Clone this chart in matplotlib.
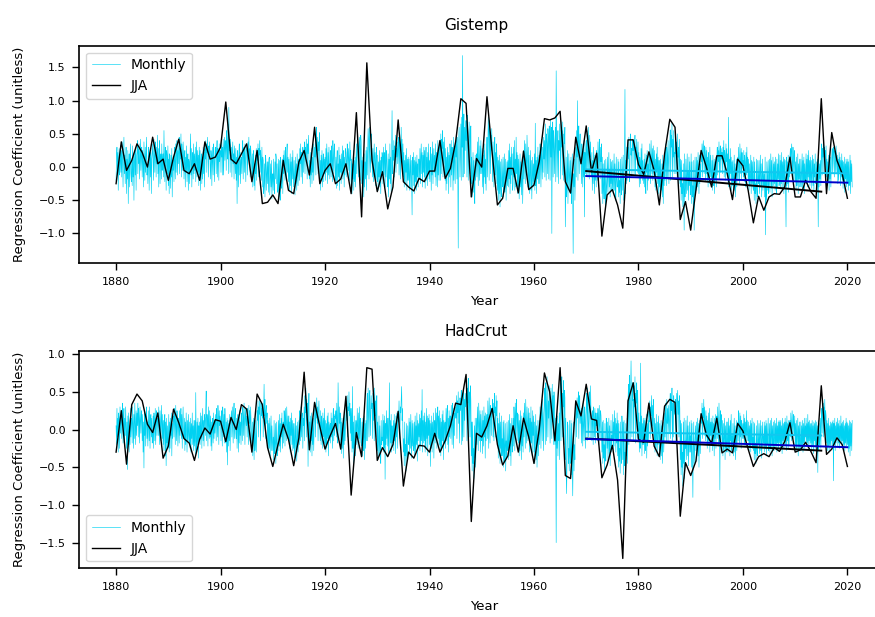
import numpy as np
import matplotlib
matplotlib.use('Agg')
import matplotlib.pyplot as plt

# JJA regression coefficients, 1880-2020
jja_years = np.arange(1880, 2021)
gis_jja = [
    -0.25, 0.38, -0.05, 0.10, 0.35, 0.22, 0.00, 0.45, 0.05, 0.12,
    -0.20, 0.15, 0.42, -0.05, -0.10, 0.05, -0.20, 0.38, 0.12, 0.15,
    0.30, 0.98, 0.12, 0.05, 0.20, 0.35, -0.22, 0.25, -0.55, -0.53,
    -0.42, -0.55, 0.10, -0.35, -0.40, 0.08, 0.25, -0.12, 0.60, -0.25,
    -0.05, 0.05, -0.25, -0.18, 0.05, -0.40, 0.82, -0.75, 1.57, 0.10,
    -0.37, -0.07, -0.63, -0.30, 0.71, -0.22, -0.30, -0.36, -0.17, -0.22,
    -0.06, -0.06, 0.40, -0.17, -0.02, 0.38, 1.03, 0.96, -0.45, 0.13,
    0.00, 1.06, 0.21, -0.57, -0.47, -0.02, -0.02, -0.39, 0.24, -0.34,
    -0.27, 0.08, 0.73, 0.71, 0.74, 0.84, -0.22, -0.39, 0.45, 0.05,
    0.62, -0.07, 0.21, -1.04, -0.42, -0.34, -0.57, -0.92, 0.41, 0.41,
    0.04, -0.11, 0.23, -0.05, -0.57, 0.20, 0.72, 0.60, -0.79, -0.52,
    -0.95, -0.35, 0.25, 0.00, -0.30, 0.17, 0.17, -0.10, -0.49, 0.12,
    0.02, -0.35, -0.84, -0.44, -0.65, -0.45, -0.40, -0.41, -0.30, 0.15,
    -0.45, -0.45, -0.20, -0.37, -0.47, 1.03, -0.40, 0.52, 0.10, -0.10,
    -0.47,
]
had_jja = [
    -0.30, 0.25, -0.46, 0.33, 0.47, 0.38, 0.07, -0.04, 0.22, -0.38,
    -0.22, 0.27, 0.09, -0.12, -0.18, -0.41, -0.13, 0.02, -0.06, 0.13,
    0.11, -0.16, 0.16, 0.00, 0.33, 0.27, -0.30, 0.47, 0.33, -0.24,
    -0.49, -0.20, 0.07, -0.13, -0.48, -0.11, 0.76, -0.27, 0.36, 0.04,
    -0.26, -0.08, 0.08, -0.26, 0.44, -0.87, -0.04, -0.36, 0.82, 0.80,
    -0.41, -0.24, -0.36, -0.20, 0.24, -0.75, -0.30, -0.38, -0.21, -0.22,
    -0.30, -0.05, -0.30, -0.15, 0.05, 0.35, 0.33, 0.73, -1.22, -0.05,
    -0.10, 0.05, 0.28, -0.20, -0.47, -0.35, 0.05, -0.30, 0.15, -0.10,
    -0.45, 0.00, 0.75, 0.50, -0.15, 0.82, -0.61, -0.65, 0.38, 0.18,
    0.60, 0.14, 0.12, -0.64, -0.47, -0.21, -0.67, -1.71, 0.38, 0.62,
    -0.13, -0.17, 0.35, -0.22, -0.36, 0.31, 0.40, 0.36, -1.15, -0.44,
    -0.61, -0.42, 0.21, -0.07, -0.18, 0.15, -0.31, -0.26, -0.31, 0.08,
    -0.02, -0.26, -0.49, -0.36, -0.32, -0.36, -0.24, -0.29, -0.16, 0.09,
    -0.30, -0.27, -0.17, -0.29, -0.44, 0.58, -0.33, -0.26, -0.11, -0.20,
    -0.49,
]

# monthly coefficients (hundredths), one row per year 1880-2020, Jan..Dec
gis_monthly = [
    [-20, 15, 30, -5, 22, -35, 10, 28, -12, 5, 33, -8],
    [25, -15, 38, 12, -30, 20, 45, -10, 18, -25, 8, 30],
    [-40, 12, -18, 25, -55, 5, 20, -30, 15, 35, -10, -22],
    [10, -28, 32, -15, 20, -50, 8, 25, -12, 30, -35, 15],
    [22, 40, -10, 28, 5, 35, -18, 12, 42, -5, 18, 30],
    [-15, 25, 8, -30, 38, 12, -20, 30, -8, 20, 45, -12],
    [5, -25, 18, 30, -35, 10, 22, -15, 28, -40, 12, 20],
    [35, 10, -20, 42, 15, -8, 38, 25, -15, 30, 5, 48],
    [-10, 28, -30, 15, 40, -25, 10, 20, -18, 35, -5, 12],
    [20, -15, 55, 8, -22, 30, 12, -35, 25, 18, -10, 32],
    [-28, 12, -40, 20, 5, -32, 18, -15, 28, -45, 10, -5],
    [15, -22, 30, 10, -18, 35, -8, 22, 40, -12, 25, 5],
    [30, 45, -10, 28, 12, 50, -15, 35, 20, -5, 38, 18],
    [-18, 10, 25, -30, 15, -8, 32, -22, 5, 20, -35, 12],
    [8, -25, 18, 50, -12, 28, -30, 10, 22, -18, 35, -10],
    [20, -5, 30, -22, 12, 38, -15, 25, -8, 18, -28, 30],
    [-12, 25, -35, 8, 20, -25, 15, -18, 30, -10, 22, -30],
    [28, 12, 40, -8, 35, 22, 45, 10, -15, 32, 18, 38],
    [5, -18, 25, 15, -28, 30, 8, -12, 35, 20, -22, 12],
    [18, 30, -10, 22, 40, -15, 28, 12, -20, 35, 8, 25],
    [25, -8, 38, 15, 30, -12, 42, -12, 28, 45, 10, 32],
    [40, -5, 55, 30, 12, 65, -10, 90, 25, 35, -8, 42],
    [10, 30, -15, 22, 38, 5, 20, -18, 32, 12, -10, 28],
    [-20, 15, -55, 25, 8, -30, 18, 35, -12, 22, -25, 10],
    [15, -10, 28, 40, -18, 22, 30, -8, 35, 12, -22, 25],
    [30, 22, -12, 38, 15, 45, 8, 28, -15, 32, 20, 12],
    [-15, 20, -30, 12, 25, -28, 5, -35, 18, -10, 28, -20],
    [22, 10, 35, -15, 28, 18, 40, -8, 25, 12, -20, 30],
    [-30, 15, 10, -40, -25, 5, -45, 18, 12, -35, -10, 8],
    [-25, 8, -38, 12, 15, -42, -20, 5, -30, 10, -48, -15],
    [-10, -35, 12, -22, -40, 8, -18, 20, 15, -25, 5, -38],
    [-35, 12, -45, 10, -28, -50, 15, 5, -32, -20, 12, -40],
    [18, -10, 25, 8, -20, 30, 12, -15, 22, 35, -8, 15],
    [-22, 12, -35, -10, 20, -28, 8, -40, 15, -18, 25, -12],
    [-30, 10, -18, -42, 15, -25, 5, -35, 20, -12, -28, 8],
    [12, -20, 28, 5, 35, -15, 22, 10, -25, 30, 18, -8],
    [25, 38, -10, 30, 15, 42, 8, -18, 35, 20, 48, 12],
    [-18, 10, -30, 22, -12, 28, -25, 15, -8, 35, -20, 5],
    [30, 15, 48, -12, 60, 35, 18, 45, -10, 38, 25, 52],
    [-25, 10, -35, 18, -15, 25, -30, 8, 20, -22, 12, -10],
    [15, -20, 28, -8, 35, 10, -25, 22, -12, 30, 5, -18],
    [8, 25, -15, 32, 12, -22, 40, 18, -10, 28, 35, -5],
    [-20, 15, -32, 10, 25, -28, 5, -15, 30, -35, 18, -8],
    [12, -25, 20, -10, 32, -18, 8, 25, -30, 15, -12, 28],
    [22, 8, -15, 35, 18, -5, 28, 12, -20, 38, 10, 25],
    [-28, 12, -40, 5, -18, 25, -35, 10, -22, 15, -30, 8],
    [35, -10, 18, 52, 28, -15, 12, 45, 30, -20, 48, 38],
    [-25, 10, -38, 15, -12, -45, 20, -30, 8, -18, 25, -35],
    [30, -12, 20, 58, 42, -18, 60, 25, -8, 15, 38, 50],
    [10, -15, 28, -22, 15, 35, -10, 22, -28, 12, 30, -18],
    [-22, 18, -35, 8, -15, 25, -30, 10, -40, 15, -8, 22],
    [15, -25, 30, -12, 22, 8, -30, 35, -15, 25, 12, -20],
    [-30, 20, -45, 12, -18, 35, -25, 15, -38, 22, 85, -10],
    [25, 10, 40, -15, 32, 18, 48, -8, 28, 15, 38, 5],
    [30, 45, -12, 52, 20, -18, 25, 60, 15, 42, -10, 35],
    [-15, 22, -30, 10, -25, 18, -8, 28, -35, 12, -20, 15],
    [-20, 12, -35, -8, 18, -30, 10, -25, -72, 15, -12, 22],
    [-28, 10, -40, 15, -22, 8, -35, 18, -15, 5, -30, 12],
    [12, -18, 28, -25, 15, 35, -10, 22, -30, 18, -8, 30],
    [-15, 25, -32, 10, 30, -20, 15, -28, 22, -10, 35, -18],
    [10, -22, 30, 15, -35, 20, -12, 38, -25, 12, 28, -8],
    [18, -15, 35, -28, 22, 10, -30, 40, -12, 25, -20, 32],
    [35, -20, 50, -10, 42, 28, 55, -15, 38, -5, 45, 22],
    [-20, 28, -35, 15, -25, 30, -10, 22, -40, 18, -15, 35],
    [22, -30, 40, -12, 30, 15, -35, 45, -20, 28, 10, -25],
    [35, 15, 52, -18, 45, -20, -122, 40, 60, 22, -15, 30],
    [65, -20, 75, 30, 168, -15, 45, 80, -10, 60, 25, 70],
    [40, 70, -15, 78, 50, -20, 30, 68, 45, -10, 55, 62],
    [-25, 15, -45, -10, 22, -38, 10, -30, -55, 18, -20, 5],
    [20, -15, 38, 10, -28, 45, 15, -20, 32, -10, 40, 8],
    [-10, 28, -30, 18, -40, 25, -15, 35, -25, 12, -35, 20],
    [45, -15, 30, 75, 55, -20, 70, 35, -10, 48, 25, 58],
    [15, -22, 38, 10, -30, 28, 45, -12, 22, -25, 35, 12],
    [-35, 15, -50, 10, -40, 18, -60, 8, -30, -45, 12, -20],
    [-30, 15, -45, -10, 20, -38, -22, 12, -50, -15, 8, -28],
    [10, -30, 25, -18, 35, -40, 15, -25, 30, -12, 20, -35],
    [-25, 30, -15, 40, -35, 12, -30, 45, -10, 22, -40, 18],
    [-35, 12, -48, -15, 20, -30, 8, -42, -20, 15, -55, -10],
    [25, -18, 40, 12, -25, 35, 8, -12, 48, 20, -30, 30],
    [-28, 18, -40, -12, 25, -35, 10, -48, -20, 15, -30, 5],
    [-22, 20, -35, 66, -28, 10, -40, 15, -18, 30, -25, 8],
    [18, -25, 35, 10, -30, 42, 15, -18, 30, -8, 45, 12],
    [40, -15, 65, 25, -20, 50, 35, -10, 58, 45, -18, 62],
    [50, -20, 72, 15, 60, -100, 40, 68, -15, 55, 35, -10],
    [35, 60, -22, 145, 48, -15, 30, 55, -25, 40, 25, 65],
    [45, -18, 70, 30, 55, -12, 68, 25, -20, 50, 35, 60],
    [-90, -30, 15, -45, -20, 25, -55, -10, 20, -35, -15, 10],
    [-40, 15, -55, -25, 20, -45, -130, -10, -30, 12, -50, -20],
    [30, -15, 55, 15, 100, -20, 40, 62, -10, 35, 50, 10],
    [15, -25, 35, 10, -30, 28, -15, 40, -75, 22, -10, 30],
    [40, -12, 55, 20, -15, 60, 25, -18, 48, 15, 38, -10],
    [-15, 22, -35, 10, -25, 30, -8, -40, 18, -20, 12, -30],
    [25, 10, -20, 38, 15, -12, 42, 20, -18, 30, 8, 35],
    [-40, 15, -55, 5, -30, -48, 10, -35, -60, 12, -25, -45],
    [-20, 15, -38, -10, 22, -30, -5, -45, 12, -25, 8, -35],
    [-25, 10, -40, -15, 20, -35, 5, -28, -50, 15, -18, -30],
    [-30, 12, -45, 8, -38, -20, -55, 12, -28, -42, 15, -8],
    [-35, 18, -50, -15, 25, 117, -40, 10, -25, 30, -20, 15],
    [30, 12, 45, -22, -15, 38, 50, 18, 28, -10, 42, 25],
    [25, 40, -10, 35, 48, -12, 30, 20, 42, 15, -8, 38],
    [-10, 22, -30, 15, 8, -25, 28, -15, 35, -20, 10, -5],
    [-25, 12, -30, 20, -15, -40, 18, -8, 25, -35, 5, -20],
    [20, -15, 35, 10, -25, 40, 15, -10, 28, -20, 32, 8],
    [-15, 25, -30, 12, -35, 20, -8, 30, -25, 15, -40, 10],
    [-30, 10, -48, 12, -35, -22, 5, -45, 18, -55, 8, -28],
    [18, -20, 35, 10, -28, 30, 22, -15, 40, 12, -25, 28],
    [35, 56, -20, 48, 30, 66, -15, 42, 15, 55, -10, 22],
    [20, 45, -10, 38, 25, -18, 50, 15, 30, -25, 42, 10],
    [-30, 12, -50, 10, -40, -25, -60, 5, -35, -95, 20, -45],
    [-25, 12, -40, -15, 20, -35, -5, -50, 15, -28, 8, -42],
    [-35, 20, -55, 8, -45, -28, -65, 10, -95, -30, 15, -40],
    [-20, 15, -35, 10, -30, 22, -12, -40, 18, -25, 5, -18],
    [20, 8, 35, -15, 28, 40, 12, -10, 32, 18, -22, 30],
    [-10, 25, -20, 15, -30, 22, 5, -25, 30, -15, 18, -8],
    [-22, 10, -35, 18, -15, -28, 12, -40, 8, -20, 15, -30],
    [15, 30, -12, 25, 8, 38, -18, 20, 32, -8, 28, 12],
    [22, -10, 30, 12, 40, -15, 25, 18, -20, 35, 8, 28],
    [-15, 20, -25, 75, -30, 12, -20, 28, -10, 15, -35, 8],
    [-28, 10, -40, -15, 18, -35, 5, -45, -20, 12, -30, -10],
    [15, -20, 30, 8, -25, 35, 12, -10, 28, -18, 22, 5],
    [10, -15, 25, -22, 18, 8, -30, 22, -12, 30, -8, 15],
    [-20, 12, -35, 5, -28, -15, 18, -40, 10, -25, 8, -30],
    [-35, 15, -50, 8, -40, -25, -55, 12, -30, -45, 10, -20],
    [-25, 10, -40, -12, 18, -30, 5, -45, -18, 12, -35, -8],
    [-30, -10, -45, 15, -102, -20, -50, 8, -35, -15, 10, -40],
    [-20, 12, -38, -8, 20, -32, 10, -45, -15, 15, -28, 5],
    [-25, 8, -35, 15, -20, -40, 12, -30, 5, -18, 20, -28],
    [-15, 18, -30, 10, -25, 22, -35, 8, -20, 15, -40, 12],
    [-20, 10, -35, -90, 15, -28, 8, -25, 18, -38, 5, -15],
    [15, 28, -10, 22, 35, 8, -15, 30, 12, -20, 25, 18],
    [-22, 8, -35, 15, -28, -10, 20, -40, 5, -18, 12, -30],
    [-18, 12, -30, -8, 20, -35, 10, -25, 15, -40, 5, -20],
    [-10, 20, -25, 12, -30, 18, -15, 25, -20, 10, -28, 15],
    [-20, 10, -32, -8, 18, -28, 12, -38, 5, -15, 20, -25],
    [-25, 8, -35, 12, -20, -90, 15, -30, 5, -18, 10, -28],
    [20, 35, -12, 28, 15, 40, -8, 30, 18, 25, -10, 32],
    [-15, 12, -28, 8, -22, 18, -35, 10, -18, 15, -30, 5],
    [15, 28, -10, 22, 30, 8, -15, 25, 18, -8, 32, 12],
    [-10, 18, -25, 12, -20, 22, -8, 15, -28, 10, -15, 20],
    [-20, 10, -32, 8, -25, 15, -38, 5, -18, 12, -30, 8],
    [-25, 12, -35, 8, -28, -15, 18, -40, 10, -22, 5, -30],
]
had_monthly = [
    [5, -20, 28, -10, 15, -30, 22, 8, -25, 30, -5, 12],
    [20, -12, 25, 35, -18, 10, 28, -22, 15, -8, 30, 5],
    [-25, 10, -53, 18, -15, 22, -30, 5, -20, 28, -10, 15],
    [12, -18, 30, 8, -25, 20, -12, 35, 5, -20, 25, -8],
    [22, 5, 35, -10, 28, 15, -18, 30, 10, -5, 25, 18],
    [-15, 20, -30, 10, -51, 25, -8, 18, -22, 12, 30, -12],
    [10, -22, 25, 5, -15, 30, -25, 12, 20, -10, 15, -18],
    [-10, 18, -25, 22, 8, -15, 28, -20, 12, 25, -8, 15],
    [15, -8, 30, 12, -20, 25, 5, -15, 32, 10, -12, 20],
    [-20, 12, -28, 8, 20, -35, 10, -48, 15, -18, 5, -25],
    [-15, 20, -30, 10, -25, 15, -8, 22, -35, 8, -12, 18],
    [18, -10, 28, 12, -20, 32, 5, -15, 25, 10, -22, 15],
    [10, -18, 25, -8, 15, 28, -12, 20, -25, 12, 30, -5],
    [-12, 15, -28, 10, -20, 22, -5, -30, 12, -15, 20, -8],
    [-18, 10, -25, 15, -30, 8, -12, 22, -20, 5, -28, 12],
    [-22, 12, -35, 49, -15, -28, 10, -20, 15, -38, 5, -12],
    [10, -20, 22, -12, 18, -25, 8, 28, -15, 12, -22, 20],
    [15, -8, 28, 51, -15, 20, 10, -22, 30, 5, -12, 25],
    [-10, 18, -22, 10, -28, 15, 5, -18, 22, -12, 12, -5],
    [20, 8, -15, 28, 12, -10, 32, 15, -20, 25, 5, 18],
    [12, -15, 25, 8, -22, 30, 15, -10, 20, -18, 28, 10],
    [-18, 10, -30, 15, -47, 12, -22, 8, -15, 20, -28, 5],
    [15, 25, -10, 30, 8, -18, 22, 35, -12, 18, 28, -5],
    [-12, 15, -25, 8, 20, -30, 12, -18, 25, -8, 10, -20],
    [22, 10, -15, 30, 18, -8, 35, 12, -20, 28, 15, 5],
    [18, -10, 28, 12, -20, 32, 8, 25, -15, 30, 10, -8],
    [-25, 10, -35, -12, 15, -40, 5, -28, -15, 12, -30, -8],
    [25, 12, 38, -10, 30, 20, 42, 8, -15, 35, 18, 28],
    [15, 35, -10, 28, 60, 18, 40, -12, 25, 32, 8, 22],
    [-20, 12, -30, 8, -25, 15, -35, -10, 18, -28, 5, -15],
    [-28, -10, -40, 12, -32, -18, 8, -45, -15, 10, -35, -22],
    [-15, 12, -28, 20, -22, 8, -30, 15, -10, 22, -25, 5],
    [10, -18, 25, 12, -22, 28, 5, -15, 30, 8, -12, 18],
    [-12, 18, -25, 10, -30, 15, -8, 22, -20, 12, -28, 8],
    [-25, 8, -38, -10, 15, -32, 5, -42, -18, 10, -30, -12],
    [12, -20, 25, 8, -15, 30, -10, 18, 22, -25, 15, 5],
    [30, -15, 45, 22, 55, -10, 40, 12, 35, -49, 20, 48],
    [-22, 10, -30, 18, -15, 22, -35, 8, -20, 15, -28, 5],
    [20, 35, -10, 28, 15, 42, 8, 30, -15, 25, 38, 12],
    [10, -15, 25, -20, 18, 8, -25, 22, -10, 15, -18, 28],
    [-20, 12, -30, 8, -25, 18, -12, 22, -35, 10, -15, 5],
    [8, -18, 22, -10, 15, -25, 12, 28, -15, 20, -8, 18],
    [15, 25, -10, 35, 12, -18, 62, 20, -12, 30, 8, 22],
    [-18, 10, -32, 15, -25, 8, -38, 12, -20, 22, -15, 5],
    [20, 38, 12, 45, -10, 30, 25, 50, 18, 35, -5, 28],
    [-15, 28, -30, 57, -25, 10, -45, 18, -20, -35, 12, -10],
    [12, -20, 28, 5, -25, 22, -12, 30, -18, 15, 8, -22],
    [-20, 10, -35, 15, -28, -10, 18, -40, 8, -25, 12, -15],
    [30, 48, -15, 55, 25, -10, 40, 52, -8, 20, 45, 28],
    [35, -12, 48, 12, 42, -15, 55, 18, 38, -10, 25, 45],
    [-28, 10, -40, -15, 18, -35, 5, -25, -45, 12, -20, -10],
    [-15, 20, -30, 12, -25, 18, -66, 8, -20, 25, -12, 15],
    [-22, 15, -35, 8, 62, -28, 12, -18, 20, -30, 5, -10],
    [-18, 12, -28, 20, -15, 8, -32, 18, -10, 22, -25, 10],
    [25, 10, 38, 15, -12, 30, 22, 40, 57, 12, 28, -8],
    [-30, -12, -48, 10, -35, -20, -55, 8, -28, -40, 5, -18],
    [-20, 15, -32, 10, -25, 20, -15, -38, 12, -22, 8, -28],
    [-25, 10, -35, 18, -30, 5, -20, 22, -42, 12, -15, 8],
    [-10, 20, -28, 15, -22, 25, -15, 53, -30, 12, -18, 18],
    [-15, 22, -30, 10, -25, 28, -12, 18, -35, 15, -8, 20],
    [-20, 12, -49, 8, -25, 18, -30, 10, -15, 22, -38, 5],
    [12, -18, 28, -10, 22, -25, 15, 30, -12, 18, -20, 25],
    [-22, 15, -35, 10, -28, 20, -15, 25, -40, 12, -18, 8],
    [10, -25, 28, -15, 20, 32, -20, 15, -30, 25, -10, 18],
    [18, -12, 32, 8, -20, 35, 12, -25, 28, -8, 22, 15],
    [30, 15, 45, -12, 38, 22, 50, 8, 35, -18, 42, 25],
    [35, 52, -20, 45, -15, 38, 55, -10, 40, 12, 48, 30],
    [40, 60, -15, 55, 35, 68, -20, 50, 45, -10, 58, 38],
    [-35, 10, -55, 10, -45, -25, -65, 5, -38, 15, -50, -10],
    [15, -20, 30, 8, -28, 35, 12, -15, 25, -30, 20, -5],
    [-15, 25, -32, 12, -22, 30, -10, 18, -38, 22, -15, 10],
    [20, -12, 38, 15, -25, 42, 10, -18, 32, 25, -8, 28],
    [25, 40, -10, 35, -15, 48, 22, 30, -10, 45, 18, 38],
    [-20, 15, -38, 8, -30, 22, -45, 10, -25, 18, -35, -12],
    [-35, 10, -50, 12, -42, -22, 8, -55, -15, -38, 10, -28],
    [-25, 12, -40, -15, 20, -35, 8, -48, -10, 15, -30, -20],
    [15, -22, 30, 10, -28, 35, -12, 25, 40, -15, 22, 8],
    [-18, 20, -35, 12, -28, 25, -10, -40, 18, -22, 8, -30],
    [22, -10, 35, 15, -25, 40, 10, -18, 30, 8, -15, 28],
    [-12, 22, -30, 15, -25, 30, -18, 10, -35, 25, -8, 18],
    [-30, 10, -45, -15, 20, -40, 5, -50, -20, 12, -35, -8],
    [12, -20, 30, 8, -25, 35, 18, -15, 40, 10, -28, 22],
    [35, 55, -20, 62, 30, -15, 70, 25, -10, 38, 15, 58],
    [30, -18, 15, 55, 22, -12, 60, 10, 45, -20, 50, 35],
    [-20, 15, -30, -150, 10, -25, 18, -35, 8, -15, 22, -40],
    [40, 62, -15, 55, 70, -10, 48, 30, 65, -20, 52, 42],
    [-40, 15, -60, -85, -30, 10, 5, -45, -25, -55, 12, -35],
    [-45, 12, -60, 8, -50, -88, -35, 10, -55, -20, -40, 15],
    [20, 35, -10, 42, 15, 28, 50, -12, 30, 45, 8, 25],
    [15, -18, 28, 10, -22, 35, 5, -15, 30, 12, -25, 20],
    [30, 48, -15, 55, 22, -10, 10, 50, 35, -12, 58, 18],
    [12, -15, 25, 8, -20, 30, 15, -10, 28, -18, 22, 5],
    [8, 22, -15, 28, 12, -20, 32, 5, -12, 25, 18, -8],
    [-30, 10, -45, 12, -38, -20, -55, 8, -28, -42, 15, 5],
    [-25, 10, -40, -12, 15, -35, 5, -48, -18, 12, -30, -8],
    [-15, 20, -28, 10, -22, 25, -12, 15, -30, 8, -18, 22],
    [-35, 12, -50, 8, -42, -25, -58, 10, -30, -45, 18, 5],
    [-40, 10, -60, 12, -48, -30, -55, 8, -35, -25, 15, -45],
    [35, 60, -20, 72, 45, -15, 55, 91, 40, -10, 62, 38],
    [40, -15, 58, 30, 70, -18, 48, 35, 62, -12, 52, 28],
    [-15, 22, -30, 10, -25, 88, -12, 18, -35, 8, -20, 15],
    [-20, 12, -32, 15, -28, -10, 20, -38, 8, -22, 12, -15],
    [25, 10, 38, -12, 30, 18, 45, 5, 32, -8, 40, 22],
    [-18, 15, -30, 8, -25, 20, -12, -35, 10, -20, 18, -8],
    [-28, 8, -40, -15, 12, -35, 5, -45, -20, 10, -30, -12],
    [22, -10, 35, 12, -18, 40, 8, 28, -15, 32, 15, -5],
    [30, 48, -12, 40, 25, 55, -18, 35, -10, 45, 28, 20],
    [25, 40, -15, 48, -8, 35, 52, 20, 38, -10, 45, 28],
    [-40, 12, -60, 8, -50, -30, -75, 10, -45, 15, -65, -15],
    [-25, 12, -40, -15, 18, -35, 5, -48, -20, 10, -30, -8],
    [-30, 12, -50, 8, -40, -90, -22, 10, -45, -28, -15, 5],
    [-28, 10, -42, -15, 15, -35, 8, -50, -20, 12, -32, -10],
    [20, 8, 35, -12, 28, 15, 40, -8, 30, 12, -15, 25],
    [-10, 18, -25, 12, -20, 22, -15, 28, -30, 10, -8, 15],
    [-15, 10, -28, 18, -22, 8, -35, 15, -12, 20, -25, 5],
    [18, -12, 30, 10, -22, 35, 8, -80, 25, -15, 20, 12],
    [-20, 12, -35, 8, -28, -12, 15, -40, 5, -25, 10, -30],
    [-18, 10, -30, 15, -25, 5, -35, 12, -15, 20, -28, -8],
    [-22, 8, -35, -10, 15, -30, 5, -40, -18, 12, -28, -5],
    [10, -15, 25, 8, -20, 22, -10, 18, -25, 12, 5, -12],
    [8, -12, 20, -18, 15, -22, 10, -8, 25, -15, 12, -5],
    [-15, 10, -28, 5, -22, 12, -30, 8, -18, 15, -25, -10],
    [-28, 10, -40, 8, -32, -18, -45, 5, -25, -35, 12, -20],
    [-20, 8, -32, -10, 12, -28, 5, -38, -15, 10, -25, -8],
    [-18, 10, -30, 5, -25, 12, -35, 8, -20, -12, 15, -28],
    [-22, 8, -30, 12, -25, -10, 15, -35, 5, -20, 10, -28],
    [-15, 12, -25, 8, -20, 15, -30, 5, -18, 10, -28, 12],
    [-18, 10, -28, 12, -22, 5, -32, 15, -15, 8, -25, 10],
    [-12, 15, -22, 10, -28, 18, -15, 8, -25, 12, -20, 5],
    [12, -10, 22, 8, -15, 25, 5, -12, 20, 10, -8, 18],
    [-20, 8, -30, 12, -25, -8, 15, -35, 5, -22, 10, -28],
    [-15, 10, -28, 5, -22, 12, -30, 8, -18, 15, -25, 5],
    [-10, 15, -22, 8, -18, 20, -25, 10, -15, 12, -20, 8],
    [-18, 8, -28, 12, -22, 5, -32, 10, -15, 8, -25, 12],
    [-22, 10, -30, 5, -57, 12, -28, 8, -20, -12, 15, -25],
    [15, 28, -5, 22, 35, -10, 30, 12, 40, -8, 25, 18],
    [-18, 12, -28, 8, -22, 15, -30, 5, -20, 10, -25, 8],
    [-15, 10, -25, 12, -68, 8, -20, 15, -28, 5, -18, 10],
    [-10, 15, -22, 8, -18, 12, -25, 5, -15, 18, -20, 8],
    [-15, 10, -25, 12, -20, 5, -28, 8, -18, 15, -22, 10],
    [-20, 8, -30, 5, -25, 12, -35, 10, -22, 8, -28, 12],
]

# 1970 onwards linear trends: (start year, end year, start value, end value)
gis_trends = {
    'monthly': (1970, 2020, -0.035, -0.095),
    'jja': (1970, 2015, -0.06, -0.37),
    'blue': (1970, 2020, -0.135, -0.235),
}
had_trends = {
    'monthly': (1970, 2015, -0.03, -0.08),
    'jja': (1970, 2015, -0.12, -0.28),
    'blue': (1970, 2020, -0.125, -0.235),
}

CYAN = '#00d2f2'


def plot_panel(ax, title, monthly_rows, jja, trends, legend_loc):
    """Draw one dataset panel: monthly series, JJA series and trend lines."""
    monthly = np.array(monthly_rows, dtype=float).ravel() / 100.0
    t_month = 1880 + np.arange(monthly.size) / 12.0

    ax.plot(t_month, monthly, color=CYAN, lw=0.45, label='Monthly')
    ax.plot(jja_years, jja, color='black', lw=1.0, label='JJA')

    colors = {'monthly': '#10c8f0', 'jja': 'black', 'blue': '#0000c8'}
    for key in ['monthly', 'jja', 'blue']:
        y0, y1, v0, v1 = trends[key]
        ax.plot([y0, y1], [v0, v1], color=colors[key], lw=1.4)

    ax.set_title(title, fontsize=11, pad=11, x=0.49)
    ax.set_xlabel('Year', fontsize=9.5, labelpad=6)
    ax.set_ylabel('Regression Coefficient (unitless)', fontsize=9.5, labelpad=9)
    ax.tick_params(labelsize=8, length=4.8, width=1.0, pad=5)
    for sp in ax.spines.values():
        sp.set_linewidth(1.2)
    ax.legend(loc=legend_loc, fontsize=10)


fig = plt.figure(figsize=(8.75, 6.17), dpi=100)
ax1 = fig.add_axes([0.0906, 0.5733, 0.9254, 0.3527])
ax2 = fig.add_axes([0.0906, 0.0789, 0.9254, 0.3522])

plot_panel(ax1, 'Gistemp', gis_monthly, gis_jja, gis_trends, 'upper left')
plot_panel(ax2, 'HadCrut', had_monthly, had_jja, had_trends, 'lower left')

fig.savefig('out.png', dpi=100)
